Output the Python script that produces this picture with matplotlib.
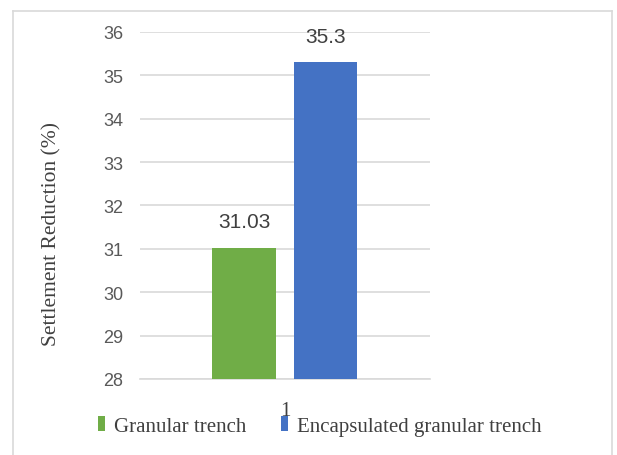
import matplotlib.pyplot as plt
from matplotlib.lines import Line2D
from matplotlib.patches import Patch

# settlement reduction for the single load case "1"
categories = ["1"]
series_names = ["Granular trench", "Encapsulated granular trench"]
series_values = [[31.03], [35.3]]
series_colors = ["#70AD47", "#4472C4"]
y_ticks = [28, 29, 30, 31, 32, 33, 34, 35, 36]

num_font = "Liberation Sans"
txt_font = "Liberation Serif"

fig = plt.figure(figsize=(6.17, 4.56), dpi=100)
ax = fig.add_axes([0.2269, 0.1667, 0.470, 0.761])

offsets = [-0.14, 0.14]
width = 0.22
for name, vals, col, off in zip(series_names, series_values, series_colors, offsets):
    xs = [i + 1 + off for i in range(len(categories))]
    ax.bar(xs, vals, width=width, color=col, zorder=3, label=name)
    for x, v in zip(xs, vals):
        ax.annotate(f"{v:g}", (x, v), xytext=(0, 12), textcoords="offset points",
                    ha="center", va="bottom", fontsize=15, color="#404040",
                    family=num_font)

ax.set_xlim(0.5, len(categories) + 0.5)
ax.set_ylim(y_ticks[0], y_ticks[-1])
ax.set_yticks(y_ticks)
ax.set_yticklabels([str(t) for t in y_ticks], family=num_font, fontsize=13,
                   color="#595959")
ax.set_xticks([i + 1 for i in range(len(categories))])
ax.set_xticklabels(categories, family=txt_font, fontsize=15, color="#404040")
ax.tick_params(axis="y", length=0, pad=12)
ax.tick_params(axis="x", length=0, pad=16)

ax.grid(axis="y", color="#D9D9D9", linewidth=1.2, zorder=0)
for s in ["top", "right", "left"]:
    ax.spines[s].set_visible(False)
ax.spines["bottom"].set_color("#D9D9D9")
ax.spines["bottom"].set_linewidth(1.2)

fig.text(0.0843, 0.487, "Settlement Reduction (%)", rotation=90, ha="center",
         va="center", family=txt_font, fontsize=15.5, color="#404040")

handles = [Patch(facecolor=c, edgecolor="none") for c in series_colors]
fig.legend(handles, series_names, loc="center", bbox_to_anchor=(0.518, 0.064),
           ncol=2, frameon=False, handlelength=0.34, handleheight=0.75,
           handletextpad=0.43, columnspacing=1.68,
           prop={"family": txt_font, "size": 15}, labelcolor="#404040")

# light frame round the chart area
W, H = 617, 456
frame_col = "#D9D9D9"
for xs, ys in [([13, 13], [0, 444]), ([13, 612], [444, 444]), ([612, 612], [444, 0])]:
    fig.add_artist(Line2D([x / W for x in xs], [y / H for y in ys],
                          color=frame_col, linewidth=1.2, transform=fig.transFigure))

fig.savefig("out.png", dpi=100)
